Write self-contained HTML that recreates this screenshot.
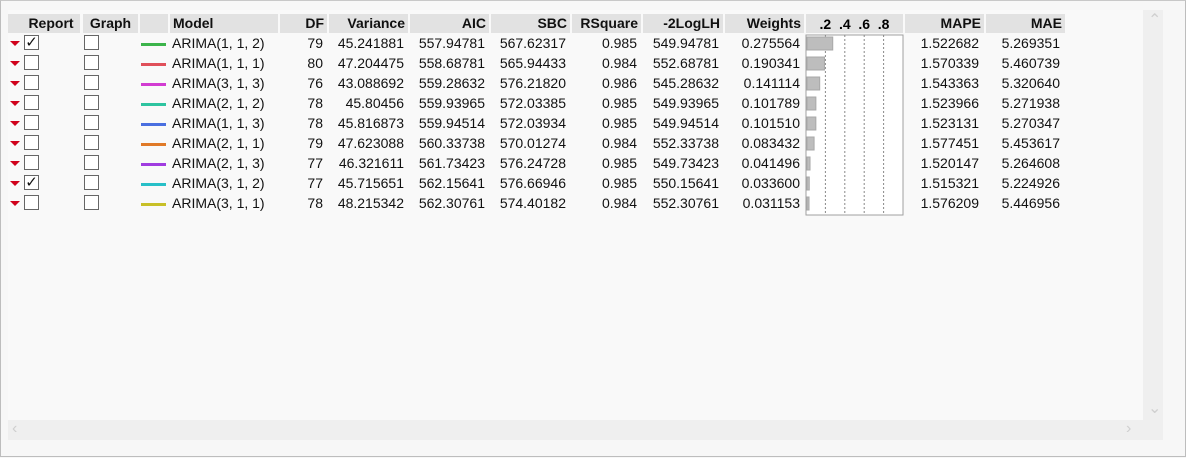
<!DOCTYPE html>
<html><head><meta charset="utf-8">
<style>
body{margin:0;width:1186px;height:458px;background:#f7f7f7;font-family:"Liberation Sans",sans-serif;font-size:14px;color:#111;position:relative;overflow:hidden}
#frame{position:absolute;left:0;top:0;width:1184px;height:455px;border:1px solid #bdbdbd;border-top-color:#c8c8c8}
#panel{position:absolute;left:8px;top:10px;width:1135px;height:410px;background:#f9f9f9}
#vscroll{position:absolute;left:1143px;top:10px;width:20px;height:410px;background:#efefef}
#hscroll{position:absolute;left:8px;top:420px;width:1155px;height:20px;background:#efefef}
.arr{position:absolute;color:#cfcfcf;font-size:16px}
.h{position:absolute;top:14px;height:19px;background:#e2e2e2;font-weight:bold;line-height:19px;padding:0 3px;box-sizing:border-box}
.ctr{text-align:center}
.c{position:absolute;height:20px;line-height:20px;white-space:nowrap}
.r{text-align:right}
.cb{position:absolute;width:15px;height:15px;border:1px solid #666;background:#fff;box-sizing:border-box;font-size:15px;line-height:13px;text-align:center;font-family:"DejaVu Sans",sans-serif}
.tri{position:absolute;width:0;height:0;border-left:5px solid transparent;border-right:5px solid transparent;border-top:5px solid #d0021b}
.sw{position:absolute;width:25px;height:3px}
</style></head><body>
<div id="frame"></div>
<div id="panel"></div>
<div id="vscroll"><span class="arr" style="left:5px;top:0px">&#8963;</span><span class="arr" style="left:5px;top:388px">&#8964;</span></div>
<div id="hscroll"><span class="arr" style="left:4px;top:0px">&#8249;</span><span class="arr" style="left:1118px;top:0px">&#8250;</span></div>

<div class="h" style="left:8px;width:14px"></div>
<div class="h ctr" style="left:22px;width:58px">Report</div>
<div class="h ctr" style="left:83px;width:55px">Graph</div>
<div class="h" style="left:140px;width:28px"></div>
<div class="h" style="left:170px;width:108px">Model</div>
<div class="h r" style="left:280px;width:47px">DF</div>
<div class="h r" style="left:329px;width:79px">Variance</div>
<div class="h r" style="left:410px;width:79px">AIC</div>
<div class="h r" style="left:491px;width:79px">SBC</div>
<div class="h r" style="left:572px;width:69px">RSquare</div>
<div class="h r" style="left:643px;width:80px">-2LogLH</div>
<div class="h r" style="left:725px;width:79px">Weights</div>
<div class="h" style="left:806px;width:97px"></div>
<div class="h r" style="left:905px;width:79px">MAPE</div>
<div class="h r" style="left:986px;width:79px">MAE</div>

<div id="rows"></div>
<svg id="chart" style="position:absolute;left:0;top:0" width="1186" height="458"></svg>

<script>
const models=["ARIMA(1, 1, 2)","ARIMA(1, 1, 1)","ARIMA(3, 1, 3)","ARIMA(2, 1, 2)","ARIMA(1, 1, 3)","ARIMA(2, 1, 1)","ARIMA(2, 1, 3)","ARIMA(3, 1, 2)","ARIMA(3, 1, 1)"];
const colors=["#3cb44b","#e0505a","#d23cd2","#2ec4a0","#4a6fe0","#e07a28","#a03ce0","#28c0c8","#c8c028"];
const df=["79","80","76","78","78","79","77","77","78"];
const variance=["45.241881","47.204475","43.088692","45.80456","45.816873","47.623088","46.321611","45.715651","48.215342"];
const aic=["557.94781","558.68781","559.28632","559.93965","559.94514","560.33738","561.73423","562.15641","562.30761"];
const sbc=["567.62317","565.94433","576.21820","572.03385","572.03934","570.01274","576.24728","576.66946","574.40182"];
const rsq=["0.985","0.984","0.986","0.985","0.985","0.984","0.985","0.985","0.984"];
const loglh=["549.94781","552.68781","545.28632","549.93965","549.94514","552.33738","549.73423","550.15641","552.30761"];
const weights=[0.275564,0.190341,0.141114,0.101789,0.101510,0.083432,0.041496,0.033600,0.031153];
const mape=["1.522682","1.570339","1.543363","1.523966","1.523131","1.577451","1.520147","1.515321","1.576209"];
const mae=["5.269351","5.460739","5.320640","5.271938","5.270347","5.453617","5.264608","5.224926","5.446956"];
const reportChecked=[true,false,false,false,false,false,false,true,false];
const ticks=[0.2,0.4,0.6,0.8];
const tickLabels=[".2",".4",".6",".8"];

const x0=806,x1=903;
const xs=v=>x0+v*(x1-x0);
const rowY=i=>33+i*20;

const rows=document.getElementById('rows');
function cell(html,left,width,top,cls,name){
  const d=document.createElement('div');
  d.className='c '+(cls||'');
  d.style.left=left+'px';d.style.width=width+'px';d.style.top=top+'px';
  d.innerHTML=html;
  
  
  rows.appendChild(d);
}
models.forEach((m,i)=>{
  const y=rowY(i);
  const t=document.createElement('div');t.className='tri';t.style.left='10px';t.style.top=(y+8)+'px';
  
  
  rows.appendChild(t);
  const c1=document.createElement('div');c1.className='cb';c1.style.left='24px';c1.style.top=(y+2)+'px';
  if(reportChecked[i])c1.innerHTML='&#10003;';
  
  
  rows.appendChild(c1);
  const c2=document.createElement('div');c2.className='cb';c2.style.left='84px';c2.style.top=(y+2)+'px';
  
  
  rows.appendChild(c2);
  const sw=document.createElement('div');sw.className='sw';sw.style.left='141px';sw.style.top=(y+10)+'px';sw.style.background=colors[i];
  
  
  rows.appendChild(sw);
  cell(m,172,110,y,'','model-name');
  cell(df[i],280,43,y,'r','df-value');
  cell(variance[i],329,75,y,'r','variance-value');
  cell(aic[i],410,75,y,'r','aic-value');
  cell(sbc[i],491,75,y,'r','sbc-value');
  cell(rsq[i],572,65,y,'r','rsquare-value');
  cell(loglh[i],643,76,y,'r','loglh-value');
  cell(weights[i].toFixed(6),725,75,y,'r','weight-value');
  cell(mape[i],905,74,y,'r','mape-value');
  cell(mae[i],986,74,y,'r','mae-value');
});

const svg=document.getElementById('chart');
const NS='http://www.w3.org/2000/svg';
const top0=35,bot=215;
const box=document.createElementNS(NS,'rect');
box.setAttribute('x',x0);box.setAttribute('y',top0);box.setAttribute('width',x1-x0);box.setAttribute('height',bot-top0);
box.setAttribute('fill','#fff');box.setAttribute('stroke','#a0a0a0');


svg.appendChild(box);
ticks.forEach((t,k)=>{
  const l=document.createElementNS(NS,'line');
  l.setAttribute('x1',xs(t));l.setAttribute('x2',xs(t));l.setAttribute('y1',top0);l.setAttribute('y2',bot);
  l.setAttribute('stroke','#888');l.setAttribute('stroke-dasharray','2,2');
  
  
  svg.appendChild(l);
  const tx=document.createElementNS(NS,'text');
  tx.setAttribute('x',xs(t));tx.setAttribute('y',29);tx.setAttribute('text-anchor','middle');
  tx.setAttribute('font-family','Liberation Sans, sans-serif');tx.setAttribute('font-size','14');tx.setAttribute('font-weight','bold');
  tx.textContent=tickLabels[k];
  
  
  svg.appendChild(tx);
});
weights.forEach((w,i)=>{
  const r=document.createElementNS(NS,'rect');
  r.setAttribute('x',x0+1);r.setAttribute('y',rowY(i)+4);r.setAttribute('width',Math.max(1,xs(w)-x0-1));r.setAttribute('height',13);
  r.setAttribute('fill','#bdbdbd');r.setAttribute('stroke','#a8a8a8');
  
  
  svg.appendChild(r);
});
</script>
</body></html>
